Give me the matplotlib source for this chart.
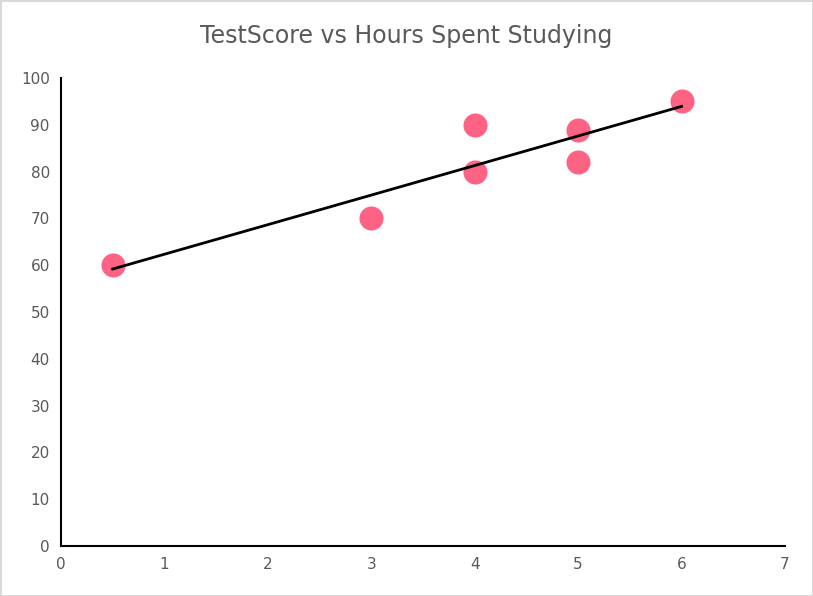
import numpy as np
import matplotlib.pyplot as plt

hours = [0.5, 3, 4, 4, 5, 5, 6]
scores = [60, 70, 90, 80, 89, 82, 95]

fig = plt.figure(figsize=(8.13, 5.96), dpi=100)
fig.patch.set_edgecolor('#d9d9d9')
fig.patch.set_linewidth(2)
ax = fig.add_axes([0.075, 0.084, 0.8906, 0.785])

ax.scatter(hours, scores, s=300, color='#ff6384', zorder=3, linewidths=0)

# linear trendline
m, b = np.polyfit(hours, scores, 1)
xs = np.array([min(hours), max(hours)])
ax.plot(xs, m * xs + b, color='black', lw=2, zorder=4)

ax.set_xlim(0, 7)
ax.set_ylim(0, 100)
ax.set_xticks(range(0, 8))
ax.set_yticks(range(0, 101, 10))
for s in ['top', 'right']:
    ax.spines[s].set_visible(False)
for s in ['left', 'bottom']:
    ax.spines[s].set_color('black')
    ax.spines[s].set_linewidth(1.5)
ax.tick_params(length=0, labelsize=11, labelcolor='#595959', pad=8)

fig.text(0.5, 0.94, 'TestScore vs Hours Spent Studying', ha='center', va='center',
         fontsize=17, color='#595959')

fig.savefig('out.png', dpi=100, edgecolor=fig.get_edgecolor())
